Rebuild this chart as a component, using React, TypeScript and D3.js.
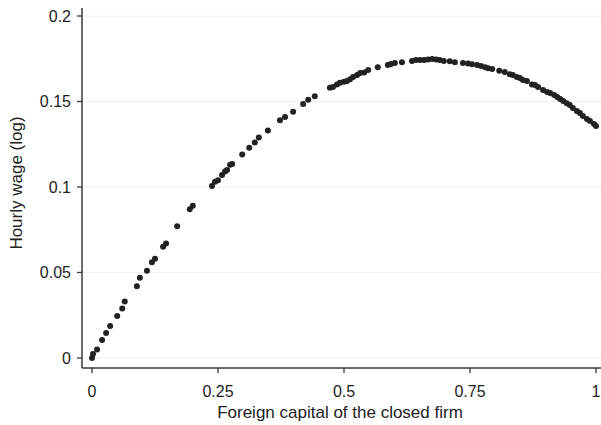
import React from 'react';
import * as d3 from 'd3';

// share of foreign capital in the closed firm
const capital = [
  0.0, 0.002, 0.01, 0.02, 0.028, 0.036, 0.05, 0.06, 0.065, 0.089, 0.095, 0.109, 0.119, 0.125,
  0.141, 0.147, 0.169, 0.194, 0.2, 0.238, 0.244, 0.25, 0.258, 0.264, 0.268, 0.274, 0.278,
  0.298, 0.312, 0.323, 0.331, 0.349, 0.373, 0.383, 0.399, 0.419, 0.429, 0.442, 0.472, 0.478,
  0.486, 0.492, 0.5, 0.506, 0.512, 0.518, 0.526, 0.532, 0.54, 0.548, 0.567, 0.587, 0.593,
  0.601, 0.615, 0.635, 0.643, 0.651, 0.659, 0.667, 0.675, 0.683, 0.69, 0.698, 0.71, 0.72,
  0.736, 0.746, 0.754, 0.764, 0.772, 0.78, 0.786, 0.794, 0.808, 0.819, 0.829, 0.835, 0.843,
  0.849, 0.855, 0.863, 0.873, 0.879, 0.885, 0.895, 0.903, 0.909, 0.917, 0.923, 0.929, 0.935,
  0.942, 0.948, 0.954, 0.962, 0.968, 0.974, 0.982, 0.988, 0.996, 1.0,
];

// hourly wage (log)
const wage = [
  0.0, 0.0023, 0.005, 0.0105, 0.0146, 0.0187, 0.0246, 0.029, 0.033, 0.042, 0.047, 0.051, 0.056, 0.058,
  0.065, 0.067, 0.077, 0.087, 0.089, 0.1006, 0.103, 0.104, 0.107, 0.109, 0.11, 0.113, 0.1135,
  0.119, 0.123, 0.126, 0.129, 0.133, 0.139, 0.141, 0.144, 0.1485, 0.151, 0.153, 0.158, 0.1585,
  0.16, 0.161, 0.1615, 0.162, 0.163, 0.1643, 0.1655, 0.1667, 0.167, 0.1684, 0.17, 0.1713, 0.172,
  0.1725, 0.173, 0.1737, 0.1743, 0.1743, 0.1743, 0.1745, 0.1748, 0.1745, 0.1743, 0.1737, 0.1735, 0.173,
  0.1725, 0.1722, 0.1718, 0.1713, 0.1708, 0.17, 0.1695, 0.169, 0.168, 0.1672, 0.166, 0.1655, 0.1643,
  0.1637, 0.1626, 0.162, 0.16, 0.1596, 0.1585, 0.1567, 0.1556, 0.155, 0.1538, 0.1526, 0.1515, 0.1503,
  0.149, 0.148, 0.1462, 0.1444, 0.1433, 0.1415, 0.1398, 0.1386, 0.1368, 0.1357,
];

const xTicks = [0, 0.25, 0.5, 0.75, 1];
const xTickLabels = ['0', '0.25', '0.5', '0.75', '1'];
const yTicks = [0, 0.05, 0.1, 0.15, 0.2];
const yTickLabels = ['0', '0.05', '0.1', '0.15', '0.2'];

export default function App() {
  const width = 601;
  const height = 425;
  const font = '"Liberation Sans", Arial, sans-serif';

  // stata-style: the axis lines sit a little away from the data region
  const x = d3.scaleLinear().domain([0, 1]).range([92, 596]);
  const y = d3.scaleLinear().domain([0, 0.2]).range([358, 16]);
  const axisX = 82;
  const axisY = 368;

  const points = capital.map((c, i) => ({ c, w: wage[i] }));

  return (
    <svg width={width} height={height} style={{ position: 'absolute', left: 0, top: 0 }}>
      <rect x={0} y={0} width={width} height={height} fill="#fff" />
      {/* faint grid */}
      {yTicks.map((t) => (
        <line key={'g' + t} x1={axisX} x2={width} y1={y(t)} y2={y(t)} stroke="#eeeeee" strokeWidth={1} />
      ))}
      {/* y axis */}
      <line x1={axisX} x2={axisX} y1={8} y2={axisY} stroke="#3a3a3a" strokeWidth={1.5} />
      {yTicks.map((t, i) => (
        <g key={'y' + t}>
          <line x1={axisX - 5} x2={axisX} y1={y(t)} y2={y(t)} stroke="#3a3a3a" strokeWidth={1.3} />
          <text x={71} y={y(t)} dy="0.36em" textAnchor="end" fontFamily={font} fontSize={16} fill="#222">
            {yTickLabels[i]}
          </text>
        </g>
      ))}
      {/* x axis */}
      <line x1={axisX} x2={width} y1={axisY} y2={axisY} stroke="#3a3a3a" strokeWidth={1.5} />
      {xTicks.map((t, i) => (
        <g key={'x' + t}>
          <line x1={x(t)} x2={x(t)} y1={axisY} y2={axisY + 5} stroke="#3a3a3a" strokeWidth={1.3} />
          <text x={x(t)} y={397} textAnchor="middle" fontFamily={font} fontSize={16} fill="#222">
            {xTickLabels[i]}
          </text>
        </g>
      ))}
      <text x={340} y={418} textAnchor="middle" fontFamily={font} fontSize={17} fill="#222">
        Foreign capital of the closed firm
      </text>
      <text
        transform={`translate(22,183) rotate(-90)`}
        textAnchor="middle"
        fontFamily={font}
        fontSize={17}
        fill="#222"
      >
        Hourly wage (log)
      </text>
      {points.map((p, i) => (
        <circle key={i} cx={x(p.c)} cy={y(p.w)} r={3} fill="#222" />
      ))}
    </svg>
  );
}
